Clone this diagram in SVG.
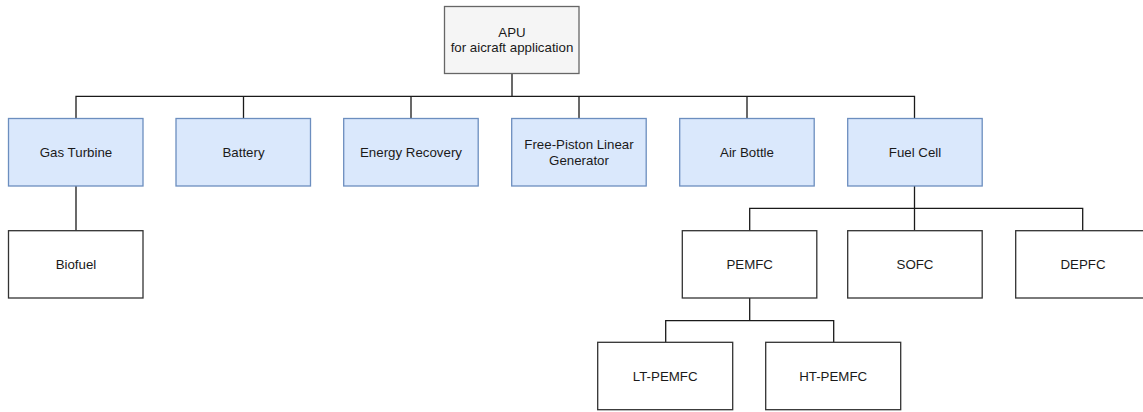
<svg xmlns="http://www.w3.org/2000/svg" width="1143" height="412" viewBox="0 0 1143 412">
<style>
text{font-family:"Liberation Sans",Arial,Helvetica,sans-serif;font-size:13.3px;fill:#1a1a1a;text-anchor:middle;dominant-baseline:central}
.blue{fill:#dae8fc;stroke:#6c8ebf;stroke-width:1.3}
.grey{fill:#f5f5f5;stroke:#666666;stroke-width:1.3}
.white{fill:#ffffff;stroke:#333333;stroke-width:1.3}
.conn{fill:none;stroke:#1a1a1a;stroke-width:1.3}
</style>
<rect width="1143" height="412" fill="#ffffff"/>
<g id="connectors">
<path class="conn" d="M512 73.5V96.3M76 118.5V96.3H914.5V118.5M243.5 96.3V118.5M411 96.3V118.5M579 96.3V118.5M747 96.3V118.5"/>
<path class="conn" d="M76 186V230.7"/>
<path class="conn" d="M914.5 186V230.7M749.7 230.7V208.3H1082.7V230.7"/>
<path class="conn" d="M749.7 298V320.7M665.7 342.3V320.7H833.7V342.3"/>
</g>
<g id="apu"><rect class="grey" x="444.5" y="6.5" width="134.5" height="67"/><text x="512" y="32">APU</text><text x="512" y="47.5">for aicraft application</text></g>
<g id="gas-turbine"><rect class="blue" x="8.5" y="118.5" width="134.5" height="67.5"/><text x="76" y="152">Gas Turbine</text></g>
<g id="battery"><rect class="blue" x="176" y="118.5" width="134.5" height="67.5"/><text x="243.5" y="152">Battery</text></g>
<g id="energy-recovery"><rect class="blue" x="343.7" y="118.5" width="134.5" height="67.5"/><text x="411" y="152">Energy Recovery</text></g>
<g id="free-piston"><rect class="blue" x="511.7" y="118.5" width="134.5" height="67.5"/><text x="579" y="144.3">Free-Piston Linear</text><text x="579" y="160">Generator</text></g>
<g id="air-bottle"><rect class="blue" x="679.7" y="118.5" width="134.5" height="67.5"/><text x="747" y="152">Air Bottle</text></g>
<g id="fuel-cell"><rect class="blue" x="847.7" y="118.5" width="134.5" height="67.5"/><text x="915" y="152">Fuel Cell</text></g>
<g id="biofuel"><rect class="white" x="8.5" y="230.7" width="134.5" height="67.3"/><text x="76" y="264.5">Biofuel</text></g>
<g id="pemfc"><rect class="white" x="682.3" y="230.7" width="134.5" height="67.3"/><text x="749.7" y="264.5">PEMFC</text></g>
<g id="sofc"><rect class="white" x="847.7" y="230.7" width="134.5" height="67.3"/><text x="915" y="264.5">SOFC</text></g>
<g id="depfc"><rect class="white" x="1015.7" y="230.7" width="134.5" height="67.3"/><text x="1083" y="264.5">DEPFC</text></g>
<g id="lt-pemfc"><rect class="white" x="597.7" y="342.3" width="135" height="67.4"/><text x="665.2" y="376">LT-PEMFC</text></g>
<g id="ht-pemfc"><rect class="white" x="765.7" y="342.3" width="135" height="67.4"/><text x="833.2" y="376">HT-PEMFC</text></g>
</svg>
